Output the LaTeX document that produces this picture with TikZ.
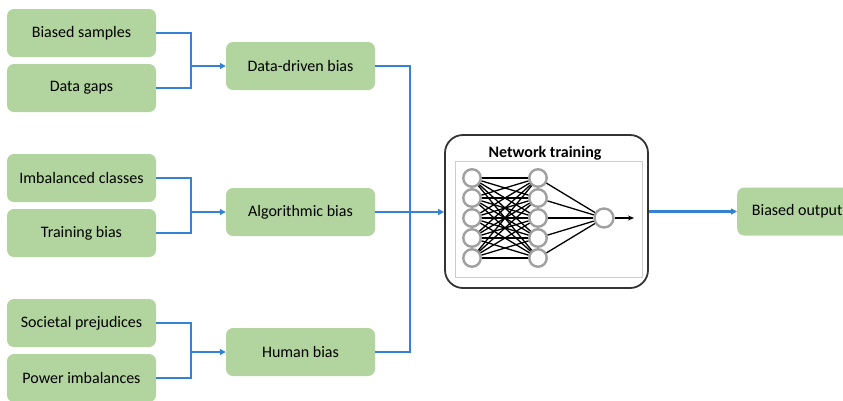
\documentclass[tikz,border=0pt]{standalone}
\usepackage{fontspec}
\setmainfont{Carlito}
\usetikzlibrary{arrows.meta,calc,positioning}
\definecolor{boxgreen}{RGB}{178,212,158}
\definecolor{linkblue}{RGB}{52,130,212}
\definecolor{neurongray}{RGB}{160,160,160}

\begin{document}
\begin{tikzpicture}[x=1pt,y=-1pt,
  cause/.style={fill=boxgreen,rounded corners=7pt,minimum width=149pt,minimum height=48pt,font=\fontsize{16}{18}\selectfont},
  link/.style={draw=linkblue,line width=2.2pt},
  linkarrow/.style={link,-{Triangle[length=6pt,width=6pt]}},
  neuron/.style={circle,draw=neurongray,line width=2.4pt,fill=white,minimum size=17.5pt,inner sep=0pt},
  wire/.style={black,line width=1.3pt}]
  \useasboundingbox (0,0) rectangle (843,400);
  % Sources of bias
  \node[cause] (samples) at (81.5,33) {Biased samples};
  \node[cause] (gaps) at (81.5,88) {Data gaps};
  \node[cause] (classes) at (81.5,178) {Imbalanced classes};
  \node[cause] (training) at (81.5,233) {Training bias};
  \node[cause] (prejudices) at (81.5,323) {Societal prejudices};
  \node[cause] (power) at (81.5,378) {Power imbalances};
  % Kinds of bias
  \node[cause] (datadriven) at (300.5,66) {Data-driven bias};
  \node[cause] (algorithmic) at (300.5,212) {Algorithmic bias};
  \node[cause] (human) at (300.5,352) {Human bias};
  \coordinate (jdata) at (191,66);
  \coordinate (jalgo) at (191,212);
  \coordinate (jhuman) at (191,352);
  \draw[link] (samples.east) -| (jdata);
  \draw[link] (gaps.east) -| (jdata);
  \draw[linkarrow] (jdata) -- (datadriven.west);
  \draw[link] (classes.east) -| (jalgo);
  \draw[link] (training.east) -| (jalgo);
  \draw[linkarrow] (jalgo) -- (algorithmic.west);
  \draw[link] (prejudices.east) -| (jhuman);
  \draw[link] (power.east) -| (jhuman);
  \draw[linkarrow] (jhuman) -- (human.west);
  % Network training
  \node[draw=black!80,line width=1.8pt,rounded corners=18pt,minimum width=203pt,minimum height=153pt] (net) at (546.5,211.5) {};
  \node[font=\fontsize{16}{18}\selectfont\bfseries] (nettitle) at (545,153) {Network training};
  \draw[black!20] (455,161) rectangle (642,277);
  \coordinate (jright) at (410,212);
  \draw[link] (datadriven.east) -| (jright);
  \draw[link] (human.east) -| (jright);
  \draw[link] (algorithmic.east) -- (jright);
  \draw[linkarrow] (jright) -- (jright -| net.west);
  \foreach \i/\y in {1/178,2/198,3/218,4/238,5/258} {
    \node[neuron] (a\i) at (472,\y) {};
    \node[neuron] (b\i) at (538,\y) {};
  }
  \node[neuron,minimum size=19pt] (o) at (604,218) {};
  \foreach \i in {1,...,5} {
    \foreach \j in {1,...,5}
      \draw[wire] (a\i) -- (b\j);
    \draw[wire] (b\i) -- (o);
  }
  \coordinate (otip) at (634,218);
  \draw[wire,-{Stealth[length=6pt,width=5pt]}] (o) -- (otip);
  % Output
  \node[cause,minimum width=120pt,anchor=west] (output) at (737,211.5) {Biased output};
  \draw[linkarrow] (net.east) -- (output.west);
\end{tikzpicture}
\end{document}
